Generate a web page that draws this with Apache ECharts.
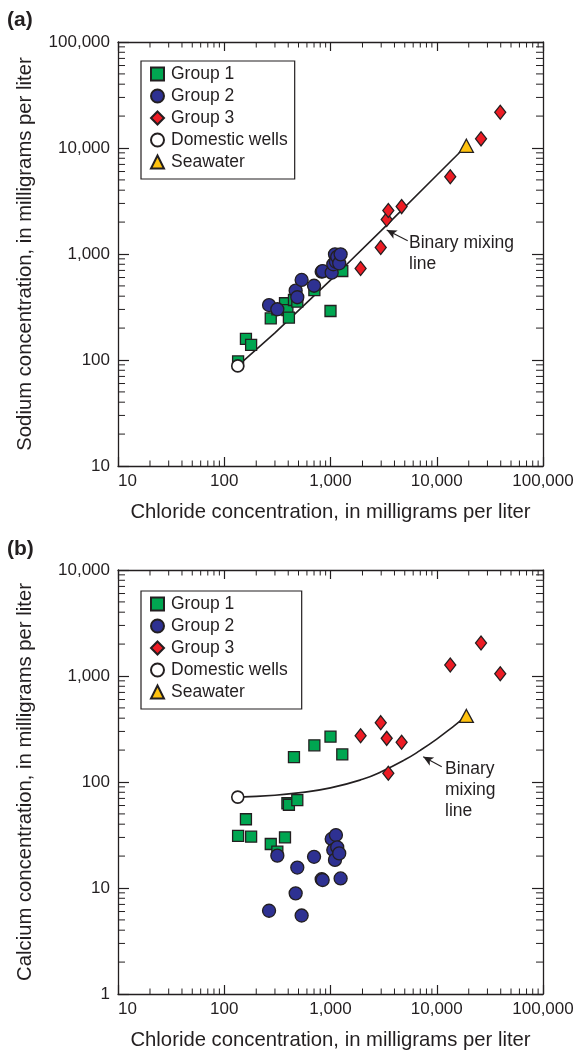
<!DOCTYPE html>
<html>
<head>
<meta charset="utf-8">
<script src="https://cdn.jsdelivr.net/npm/echarts@6/dist/echarts.min.js"></script>
<style>
  html, body { margin: 0; padding: 0; background: #fff; }
  #chart { width: 577px; height: 1050px; }
</style>
</head>
<body>
<div id="chart"></div>
<script>
// ---- Well chemistry, mg/L (chloride is shared by both panels) ----
const group1Chloride = [135, 160, 179, 274, 316, 373, 393, 406, 453, 487, 705, 1000, 1291];
const group1Sodium   = [97, 158, 139, 247, 300, 343, 296, 251, 368, 355, 457, 290, 691];
const group1Calcium  = [31, 44.5, 30.5, 26, 22, 30, 63, 61, 172, 67.6, 222, 268, 182];

const group2Chloride = [264, 316, 470, 487, 535, 700, 826, 844, 1026, 1062, 1102, 1125, 1157, 1208, 1245];
const group2Sodium   = [330, 301, 451, 391, 569, 502, 681, 690, 667, 800, 993, 845, 940, 817, 993];
const group2Calcium  = [6.1, 20.2, 8.9, 15.6, 5.5, 19.7, 12.1, 11.9, 29, 22.8, 18.4, 31.6, 24.2, 21.2, 12.3];

const group3Chloride = [1920, 2970, 3380, 3500, 4670, 13400, 26100, 39600];
const group3Sodium   = [730, 1150, 2120, 2570, 2800, 5360, 12200, 21700];
const group3Calcium  = [273, 363, 258, 121, 237, 1270, 2050, 1050];

const domesticChloride = [134];
const domesticSodium   = [88];
const domesticCalcium  = [72];

const seawaterChloride = [19000];
const seawaterSodium   = [10500];
const seawaterCalcium  = [420];

// Binary mixing line between domestic-well water and seawater
const mixNaChloride = [134, 300, 1000, 3000, 10000, 19000];
const mixSodium     = [88, 180, 566, 1660, 5530, 10500];
const mixCaChloride = [134, 300, 500, 1000, 2000, 3000, 5000, 7000, 10000, 14000, 19000];
const mixCalcium    = [72, 75, 79, 88, 106, 125, 162, 199, 254, 328, 420];

// Arrow pointing at the mixing line: [tail, head] in data units
const arrowNa = [[5330, 1334], [3380, 1683]];
const arrowCa = [[11140, 139], [7460, 173]];

const legendNames = ['Group 1', 'Group 2', 'Group 3', 'Domestic wells', 'Seawater'];
const xTitle = 'Chloride concentration, in milligrams per liter';
const naTitle = 'Sodium concentration, in milligrams per liter';
const caTitle = 'Calcium concentration, in milligrams per liter';

// Axis extents (decades)
const X_MIN = 10, X_MAX = 100000;
const NA_MIN = 10, NA_MAX = 100000;
const CA_MIN = 1, CA_MAX = 10000;

// ---- Styling ----
const FONT = '"Liberation Sans", Arial, Helvetica, sans-serif';
const INK = '#231f20';
const TICK_FONT = 17;
const TITLE_FONT = 20.3;
const X_MAJOR = 9, X_MINOR = 5.5;   // vertical tick lengths
const Y_MAJOR = 11, Y_MINOR = 7;    // horizontal tick lengths

function withCommas(v) {
  return String(Math.round(v)).replace(/\B(?=(\d{3})+(?!\d))/g, ',');
}

// 2..9 within each decade between min and max
function minorValues(min, max) {
  const out = [];
  for (let d = min; d < max; d *= 10) {
    for (let m = 2; m <= 9; m++) out.push(d * m);
  }
  return out;
}

function xAxis(gridIndex, position, withLabels) {
  return {
    type: 'log', logBase: 10, min: X_MIN, max: X_MAX, gridIndex, position,
    axisLine: { show: true, onZero: false, lineStyle: { color: INK, width: 1.3 } },
    axisTick: { show: true, inside: true, length: X_MAJOR, lineStyle: { color: INK, width: 1.2 } },
    minorTick: { show: false },
    splitLine: { show: false },
    axisLabel: withLabels ? {
      show: true, margin: 7, fontSize: TICK_FONT, fontFamily: FONT, color: INK,
      formatter: withCommas, alignMinLabel: 'left'
    } : { show: false },
    name: withLabels ? xTitle : '',
    nameLocation: 'middle', nameGap: 36,
    nameTextStyle: { fontSize: TITLE_FONT, fontFamily: FONT, color: INK }
  };
}

function yAxis(gridIndex, position, min, max, title) {
  const withLabels = position === 'left';
  return {
    type: 'log', logBase: 10, min, max, gridIndex, position,
    axisLine: { show: true, onZero: false, lineStyle: { color: INK, width: 1.3 } },
    axisTick: { show: true, inside: true, length: Y_MAJOR, lineStyle: { color: INK, width: 1.2 } },
    minorTick: { show: false },
    splitLine: { show: false },
    axisLabel: withLabels ? {
      show: true, margin: 8, fontSize: TICK_FONT, fontFamily: FONT, color: INK,
      formatter: withCommas
    } : { show: false },
    name: withLabels ? title : '',
    nameLocation: 'middle', nameGap: 83,
    nameTextStyle: { fontSize: TITLE_FONT, fontFamily: FONT, color: INK }
  };
}

// Minor ticks drawn on all four sides through the axes' own scales
function minorTickSeries(axisIdx, yMin, yMax) {
  const xs = minorValues(X_MIN, X_MAX).map(v => [v, yMin, 0]);
  const ys = minorValues(yMin, yMax).map(v => [X_MIN, v, 1]);
  const stroke = { stroke: INK, lineWidth: 1 };
  return {
    type: 'custom', xAxisIndex: axisIdx, yAxisIndex: axisIdx, silent: true, clip: false, z: 1,
    encode: { x: 0, y: 1 },
    data: xs.concat(ys),
    renderItem(params, api) {
      const kind = api.value(2);
      if (kind === 0) {
        const v = api.value(0);
        const b = api.coord([v, yMin]);
        const t = api.coord([v, yMax]);
        return { type: 'group', children: [
          { type: 'line', shape: { x1: b[0], y1: b[1], x2: b[0], y2: b[1] - X_MINOR }, style: stroke },
          { type: 'line', shape: { x1: t[0], y1: t[1], x2: t[0], y2: t[1] + X_MINOR }, style: stroke }
        ] };
      }
      const v = api.value(1);
      const l = api.coord([X_MIN, v]);
      const r = api.coord([X_MAX, v]);
      return { type: 'group', children: [
        { type: 'line', shape: { x1: l[0], y1: l[1], x2: l[0] + Y_MINOR, y2: l[1] }, style: stroke },
        { type: 'line', shape: { x1: r[0], y1: r[1], x2: r[0] - Y_MINOR, y2: r[1] }, style: stroke }
      ] };
    }
  };
}

const zip = (a, b) => a.map((v, i) => [v, b[i]]);

const markerStyles = {
  'Group 1':        { symbol: 'rect', symbolSize: 11, itemStyle: { color: '#00a651', borderColor: INK, borderWidth: 1.3, opacity: 1 } },
  'Group 2':        { symbol: 'circle', symbolSize: 13, itemStyle: { color: '#2e3192', borderColor: INK, borderWidth: 1.3, opacity: 1 } },
  'Group 3':        { symbol: 'diamond', symbolSize: [11, 14], itemStyle: { color: '#ed1c24', borderColor: INK, borderWidth: 1.3, opacity: 1 } },
  'Domestic wells': { symbol: 'circle', symbolSize: 12, itemStyle: { color: '#ffffff', borderColor: INK, borderWidth: 1.6, opacity: 1 } },
  'Seawater':       { symbol: 'triangle', symbolSize: [14, 13], itemStyle: { color: '#ffc20e', borderColor: INK, borderWidth: 1.3, opacity: 1 } }
};

function scatter(name, axisIdx, data) {
  return Object.assign({
    type: 'scatter', name, xAxisIndex: axisIdx, yAxisIndex: axisIdx, data,
    z: 3, emphasis: { disabled: true }
  }, markerStyles[name]);
}

function mixingLine(axisIdx, data, arrow, smooth) {
  return {
    type: 'line', name: 'Binary mixing line', xAxisIndex: axisIdx, yAxisIndex: axisIdx,
    data, smooth, showSymbol: false, z: 2,
    lineStyle: { color: INK, width: 1.6 },
    emphasis: { disabled: true },
    markLine: {
      silent: true, symbol: ['none', 'arrow'], symbolSize: [7, 10],
      lineStyle: { color: INK, width: 1.1, type: 'solid' },
      label: { show: false },
      data: [[{ coord: arrow[0] }, { coord: arrow[1] }]]
    }
  };
}

function panelSeries(axisIdx, yMin, yMax, g1, g2, g3, dom, sea, mix, arrow, smooth) {
  return [
    minorTickSeries(axisIdx, yMin, yMax),
    mixingLine(axisIdx, mix, arrow, smooth),
    scatter('Group 1', axisIdx, g1),
    scatter('Group 2', axisIdx, g2),
    scatter('Group 3', axisIdx, g3),
    scatter('Domestic wells', axisIdx, dom),
    scatter('Seawater', axisIdx, sea)
  ];
}

function legend(top, padRight) {
  return {
    orient: 'vertical', left: 141, top, padding: [4, padRight, 8, 9],
    itemWidth: 13, itemHeight: 13, itemGap: 4,
    borderColor: INK, borderWidth: 1.2, selectedMode: false,
    itemStyle: { opacity: 1 },
    textStyle: { fontFamily: FONT, fontSize: 17.5, color: INK, padding: [0, 0, 0, 2] },
    data: legendNames
  };
}

function noteText(x, y, text) {
  return {
    type: 'text', x, y, silent: true,
    style: { text, fontFamily: FONT, fontSize: 17.5, lineHeight: 21, fill: INK, verticalAlign: 'top' }
  };
}

const chart = echarts.init(document.getElementById('chart'), null, { renderer: 'canvas' });

chart.setOption({
  backgroundColor: '#ffffff',
  animation: false,
  grid: [
    { left: 118, top: 42, width: 425, height: 424, containLabel: false, outerBoundsMode: 'none' },
    { left: 118, top: 570, width: 425, height: 424, containLabel: false, outerBoundsMode: 'none' }
  ],
  xAxis: [xAxis(0, 'bottom', true), xAxis(0, 'top', false), xAxis(1, 'bottom', true), xAxis(1, 'top', false)],
  yAxis: [
    yAxis(0, 'left', NA_MIN, NA_MAX, naTitle), yAxis(0, 'right', NA_MIN, NA_MAX, ''),
    yAxis(1, 'left', CA_MIN, CA_MAX, caTitle), yAxis(1, 'right', CA_MIN, CA_MAX, '')
  ],
  legend: [legend(61, 7), legend(591, 14)],
  series: [].concat(
    panelSeries(0, NA_MIN, NA_MAX,
      zip(group1Chloride, group1Sodium), zip(group2Chloride, group2Sodium), zip(group3Chloride, group3Sodium),
      zip(domesticChloride, domesticSodium), zip(seawaterChloride, seawaterSodium),
      zip(mixNaChloride, mixSodium), arrowNa, false),
    panelSeries(2, CA_MIN, CA_MAX,
      zip(group1Chloride, group1Calcium), zip(group2Chloride, group2Calcium), zip(group3Chloride, group3Calcium),
      zip(domesticChloride, domesticCalcium), zip(seawaterChloride, seawaterCalcium),
      zip(mixCaChloride, mixCalcium), arrowCa, true)
  ),
  graphic: [
    { type: 'text', x: 7, y: 20, silent: true,
      style: { text: '(a)', fontFamily: FONT, fontWeight: 'bold', fontSize: 21, fill: INK, verticalAlign: 'middle' } },
    { type: 'text', x: 7, y: 549, silent: true,
      style: { text: '(b)', fontFamily: FONT, fontWeight: 'bold', fontSize: 21, fill: INK, verticalAlign: 'middle' } },
    noteText(409, 233, 'Binary mixing\nline'),
    noteText(445, 759, 'Binary\nmixing\nline')
  ]
});
</script>
</body>
</html>
